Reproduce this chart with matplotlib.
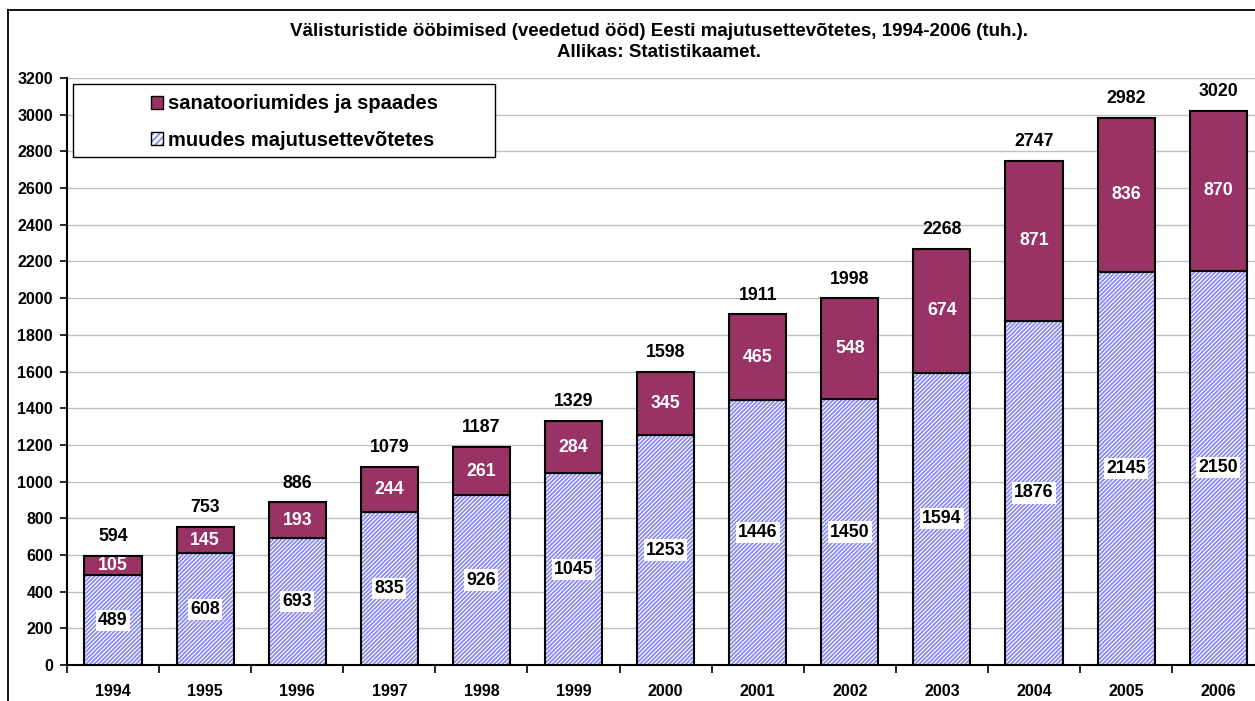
import matplotlib
matplotlib.use("Agg")
import matplotlib.pyplot as plt
from matplotlib.patches import Rectangle, Patch
from matplotlib.lines import Line2D
from matplotlib.legend_handler import HandlerTuple
import numpy as np

plt.rcParams['font.family'] = ['Liberation Sans', 'DejaVu Sans']
plt.rcParams['hatch.linewidth'] = 1.3

years = ['1994', '1995', '1996', '1997', '1998', '1999', '2000',
         '2001', '2002', '2003', '2004', '2005', '2006']
muudes = [489, 608, 693, 835, 926, 1045, 1253, 1446, 1450, 1594, 1876, 2145, 2150]
sanat = [105, 145, 193, 244, 261, 284, 345, 465, 548, 674, 871, 836, 870]
totals = [594, 753, 886, 1079, 1187, 1329, 1598, 1911, 1998, 2268, 2747, 2982, 3020]

title = "Välisturistide ööbimised (veedetud ööd) Eesti majutusettevõtetes, 1994-2006 (tuh.).\nAllikas: Statistikaamet."

PLUM = '#993366'
HATCH_BLUE = '#8a8af2'
HATCH = '////////'

W, H = 1255, 701
fig = plt.figure(figsize=(W/100, H/100), dpi=100)
ax = fig.add_axes([67/W, 1-665/H, 1-67/W, (665-78)/H])

x = np.arange(len(years))
w = 0.62
# hatched fill (hatch colour from edgecolor), then black outline
ax.bar(x, muudes, w, color='white', edgecolor=HATCH_BLUE, hatch=HATCH, linewidth=0, zorder=3)
ax.bar(x, muudes, w, fill=False, edgecolor='black', linewidth=1.5, zorder=4)
ax.bar(x, sanat, w, bottom=muudes, color=PLUM, edgecolor='black', linewidth=1.5, zorder=4)

for i in range(len(years)):
    ax.text(x[i], muudes[i]/2, str(muudes[i]), ha='center', va='center', fontsize=12.8,
            fontweight='bold', color='black', zorder=5,
            bbox=dict(facecolor='white', edgecolor='none', pad=1.5))
    ax.text(x[i], muudes[i] + sanat[i]/2, str(sanat[i]), ha='center', va='center', fontsize=12.8,
            fontweight='bold', color='white', zorder=5)
    ax.text(x[i], totals[i] + 105, str(totals[i]), ha='center', va='center', fontsize=12.8,
            fontweight='bold', color='black', zorder=5)

ax.set_xlim(-0.5, 12.4)
ax.set_ylim(0, 3200)
ax.set_yticks(np.arange(0, 3201, 200))
ax.set_yticklabels([str(v) for v in range(0, 3201, 200)], fontsize=11.5, fontweight='bold')
ax.set_xticks(x)
ax.set_xticklabels(years, fontsize=11.5, fontweight='bold')
ax.set_xticks(np.arange(-0.5, 12.5, 1), minor=True)
ax.tick_params(axis='x', which='major', length=0, pad=14)
ax.tick_params(axis='x', which='minor', length=6, width=1.2, direction='out')
ax.tick_params(axis='y', length=5, width=1.2, direction='out', pad=5)
ax.grid(axis='y', color='#c0c0c0', linewidth=1, zorder=0)
ax.set_axisbelow(True)
for s in ['top', 'right']:
    ax.spines[s].set_visible(False)
ax.spines['left'].set_linewidth(1.5)
ax.spines['bottom'].set_linewidth(1.5)

fig.text(659/W, 1-42/H, title, ha='center', va='center', fontsize=13.5,
         fontweight='bold', linespacing=1.35)

# legend frame
fig.add_artist(Rectangle((73/W, 1-157/H), (495-73)/W, (157-84)/H, transform=fig.transFigure,
                         facecolor='white', edgecolor='black', linewidth=1.0, zorder=9))
h1 = Patch(facecolor=PLUM, edgecolor='black', linewidth=1)
h2 = (Patch(facecolor='white', edgecolor=HATCH_BLUE, hatch='/////', linewidth=0),
      Patch(fill=False, edgecolor='black', linewidth=1))
leg = fig.legend([h1, h2], ['sanatooriumides ja spaades', 'muudes majutusettevõtetes'],
                 loc='center left', bbox_to_anchor=(151/W, 1-122/H),
                 handler_map={tuple: HandlerTuple(ndivide=1)},
                 prop={'weight': 'bold', 'size': 14.5}, frameon=False,
                 handlelength=0.6, handleheight=0.6, handletextpad=0.25,
                 labelspacing=0.85, borderpad=0, borderaxespad=0)
leg.set_zorder(10)

# outer chart border (left and top)
fig.add_artist(Line2D([8/W, 8/W], [0, 1-10/H], transform=fig.transFigure, color='black', linewidth=1.3))
fig.add_artist(Line2D([8/W, 1], [1-10/H, 1-10/H], transform=fig.transFigure, color='black', linewidth=1.3))

fig.savefig('out.png', dpi=100)
